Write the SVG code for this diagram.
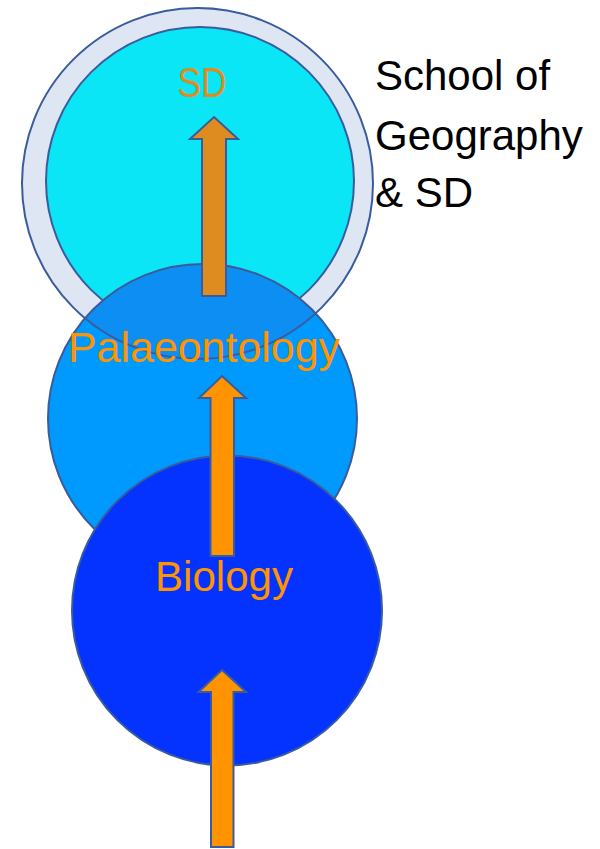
<svg xmlns="http://www.w3.org/2000/svg" width="600" height="849" viewBox="0 0 600 849">
<style>
.edge{stroke:#3A5C9C;stroke-width:2}
.lbl{font-family:"Liberation Sans",Arial,sans-serif;font-size:42px}
.or{fill:#FF9300}
.ord{fill:#DE8C20}
</style>
<defs>
<clipPath id="palClip"><circle cx="202.5" cy="418.5" r="154.5"/></clipPath>
</defs>
<rect width="600" height="849" fill="#FFFFFF"/>
<g id="sd-node">
<circle cx="197.5" cy="183.5" r="175.5" fill="#DFE6F3" class="edge"/>
<circle cx="200" cy="181" r="154" fill="#0BE6F6" class="edge"/>
<text x="202" y="97" class="lbl ord" text-anchor="middle" textLength="49" lengthAdjust="spacingAndGlyphs">SD</text>
</g>
<g id="palaeontology-node">
<circle cx="202.5" cy="418.5" r="154.5" fill="#0099FE"/>
<circle cx="197.5" cy="183.5" r="175.5" fill="#0C8EF2" class="edge" clip-path="url(#palClip)"/>
<circle cx="202.5" cy="418.5" r="154.5" fill="none" class="edge"/>
<text x="204" y="362" class="lbl or" text-anchor="middle" textLength="272" lengthAdjust="spacingAndGlyphs">Palaeontology</text>
</g>
<g id="biology-node">
<circle cx="227" cy="610.5" r="155" fill="#0433FF" class="edge"/>
<text x="224" y="591" class="lbl or" text-anchor="middle" textLength="138" lengthAdjust="spacingAndGlyphs">Biology</text>
</g>
<g id="title">
<text class="lbl" fill="#000000"><tspan x="375" y="90">School of</tspan><tspan x="375" y="150">Geography</tspan><tspan x="375" y="207">&amp; SD</tspan></text>
</g>
<g id="connectors">
<polygon points="214,117 238,139 226,139 226,296 202,296 202,139 190,139" class="edge ord"/>
<polygon points="222,376 246,398 234,398 234,556 210.5,556 210.5,398 199,398" class="edge or"/>
<polygon points="222,670 246,692 233.5,692 233.5,847 211,847 211,692 198.5,692" class="edge or"/>
</g>
</svg>
